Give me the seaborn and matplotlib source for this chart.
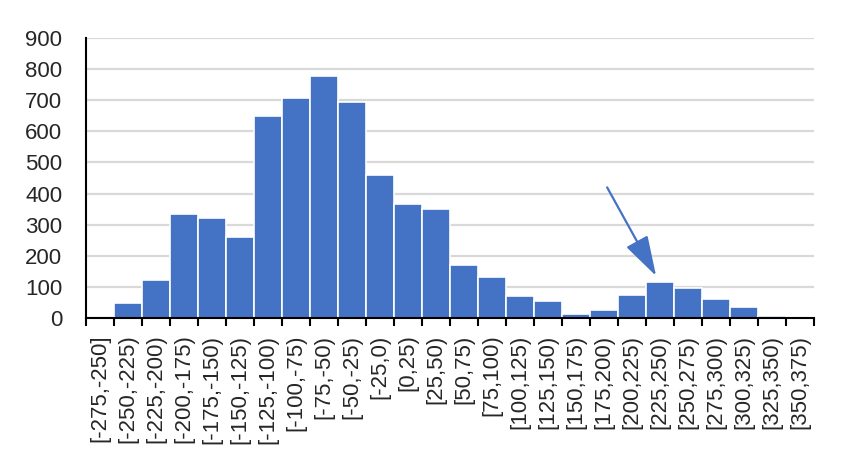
import numpy as np
import pandas as pd
import seaborn as sns
import matplotlib.pyplot as plt

# bins and counts
bins = ['[-275,-250]', '[-250,-225)', '[-225,-200)', '[-200,-175)', '[-175,-150)',
        '[-150,-125)', '[-125,-100)', '[-100,-75)', '[-75,-50)', '[-50,-25)',
        '[-25,0)', '[0,25)', '[25,50)', '[50,75)', '[75,100)', '[100,125)',
        '[125,150)', '[150,175)', '[175,200)', '[200,225)', '[225,250)',
        '[250,275)', '[275,300)', '[300,325)', '[325,350)', '[350,375)']
counts = [0, 47, 123, 333, 322, 259, 651, 708, 778, 695,
          459, 366, 350, 169, 133, 72, 56, 14, 27, 75, 117,
          95, 60, 34, 6, 4]
y_ticks = [0, 100, 200, 300, 400, 500, 600, 700, 800, 900]

df = pd.DataFrame({'bin': bins, 'count': counts})

sns.set_style('white')
plt.rcParams['font.family'] = ['Liberation Sans', 'DejaVu Sans']

fig, ax = plt.subplots(figsize=(8.52, 4.71), dpi=100)
fig.subplots_adjust(left=0.101, right=0.955, bottom=0.325, top=0.919)

ax.yaxis.grid(True, color='#d9d9d9', linewidth=1.6, zorder=0)
ax.set_axisbelow(True)
sns.barplot(data=df, x='bin', y='count', color='#4472C4', saturation=1,
            width=1.0, edgecolor='white', linewidth=1.2, ax=ax, zorder=2)

n = len(bins)
ax.set_xlim(-0.5, n - 0.5)
ax.set_ylim(0, 900)
ax.set_yticks(y_ticks)
ax.set_yticklabels([str(v) for v in y_ticks], fontsize=16)
ax.tick_params(axis='y', length=0, pad=17)

# boundary ticks as major, labels on minor ticks at centres
ax.set_xticks(np.arange(n + 1) - 0.5)
ax.set_xticklabels([''] * (n + 1))
ax.set_xticks(np.arange(n), minor=True)
ax.set_xticklabels(bins, minor=True, rotation=90, fontsize=16)
ax.tick_params(axis='x', which='major', direction='out', length=6, width=1.5, color='black', bottom=True)
ax.tick_params(axis='x', which='minor', length=0, pad=12)
ax.set_xlabel('')
ax.set_ylabel('')

for s in ['top', 'right']:
    ax.spines[s].set_visible(False)
for s in ['left', 'bottom']:
    ax.spines[s].set_color('black')
    ax.spines[s].set_linewidth(1.5)

# arrow pointing at the [225,250) bump
ax.annotate('', xy=(19.87, 135), xytext=(18.12, 420),
            arrowprops=dict(arrowstyle='-|>,head_length=1.25,head_width=0.38',
                            color='#4472C4', lw=1.6, mutation_scale=20,
                            shrinkA=0, shrinkB=0))

plt.savefig('out.png', dpi=100)
